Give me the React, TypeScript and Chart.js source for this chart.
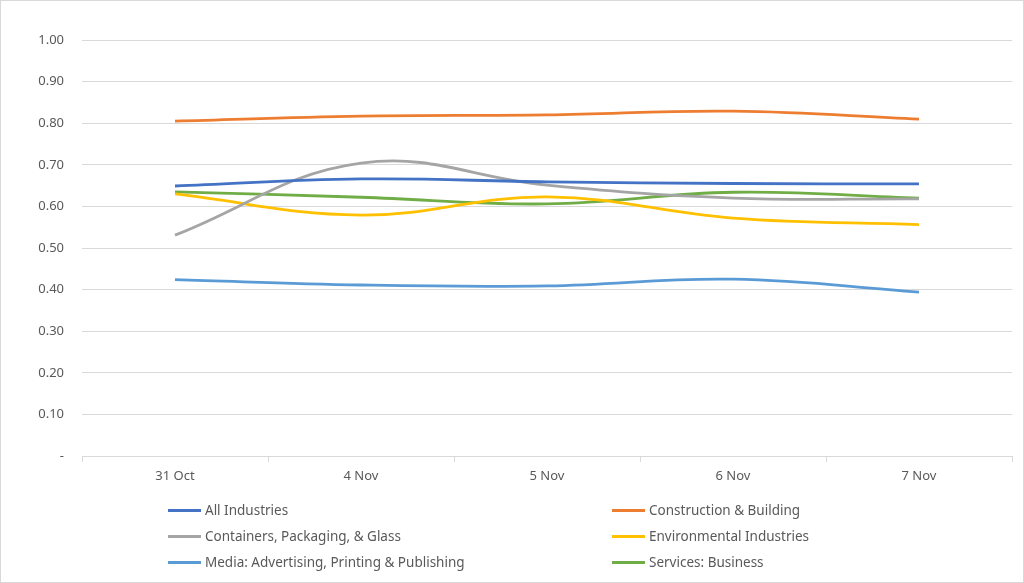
import React, { useEffect, useRef } from "react";
import { Chart, registerables } from "chart.js";

Chart.register(...registerables);

const categories = ["31 Oct", "4 Nov", "5 Nov", "6 Nov", "7 Nov"];
const allIndustries = [0.649, 0.666, 0.659, 0.655, 0.654];
const construction = [0.805, 0.817, 0.82, 0.829, 0.81];
const containers = [0.531, 0.704, 0.651, 0.62, 0.618];
const environmental = [0.63, 0.579, 0.623, 0.572, 0.556];
const media = [0.424, 0.411, 0.409, 0.425, 0.394];
const services = [0.635, 0.622, 0.606, 0.634, 0.62];
const yTicks = [0, 0.1, 0.2, 0.3, 0.4, 0.5, 0.6, 0.7, 0.8, 0.9, 1.0];

const seriesNames = [
  "All Industries",
  "Construction & Building",
  "Containers, Packaging, & Glass",
  "Environmental Industries",
  "Media: Advertising, Printing & Publishing",
  "Services: Business",
];
const seriesData = [allIndustries, construction, containers, environmental, media, services];
const colors = ["#4472C4", "#ED7D31", "#A5A5A5", "#FFC000", "#5B9BD5", "#70AD47"];

const FONT = '"Noto Sans", "Open Sans", sans-serif';

export default function App() {
  const ref = useRef<HTMLCanvasElement | null>(null);

  useEffect(() => {
    document.body.style.margin = "0";
    const canvas = ref.current;
    if (!canvas) return;
    const chart = new Chart(canvas, {
      type: "line",
      data: {
        labels: categories,
        datasets: seriesNames.map((name, i) => ({
          label: name,
          data: seriesData[i],
          borderColor: colors[i],
          backgroundColor: colors[i],
          borderWidth: 2.8,
          pointRadius: 0,
          pointHoverRadius: 0,
          tension: 0.4,
          fill: false,
        })),
      },
      options: {
        animation: false,
        responsive: false,
        maintainAspectRatio: false,
        layout: { padding: { left: 0, right: 12, top: 40, bottom: 0 } },
        plugins: {
          legend: { display: false },
          tooltip: { enabled: false },
        },
        scales: {
          x: {
            offset: true,
            grid: {
              offset: true,
              drawOnChartArea: false,
              drawTicks: true,
              tickLength: 6,
              color: "#d9d9d9",
            },
            border: { display: true, color: "#d9d9d9" },
            ticks: {
              color: "#595959",
              font: { family: FONT, size: 13 },
              padding: 6,
              maxRotation: 0,
            },
            afterFit: (scale: any) => {
              scale.height = 127;
            },
          },
          y: {
            min: 0,
            max: 1,
            afterBuildTicks: (scale: any) => {
              scale.ticks = yTicks.map((v) => ({ value: v }));
            },
            grid: { color: "#d9d9d9", drawTicks: false, lineWidth: 1 },
            border: { display: false },
            ticks: {
              color: "#595959",
              font: { family: FONT, size: 13 },
              padding: 18,
              callback: (v: any) => (Number(v) === 0 ? "-" : Number(v).toFixed(2)),
            },
            afterFit: (scale: any) => {
              scale.width = 82;
            },
          },
        },
      },
    });
    return () => chart.destroy();
  }, []);

  const legendPos = [
    { x: 168, y: 510 },
    { x: 612, y: 510 },
    { x: 168, y: 536 },
    { x: 612, y: 536 },
    { x: 168, y: 562 },
    { x: 612, y: 562 },
  ];

  return (
    <div
      style={{
        position: "relative",
        width: 1024,
        height: 583,
        background: "#fff",
        overflow: "hidden",
      }}
    >
      <canvas ref={ref} width={1024} height={583} style={{ position: "absolute", left: 0, top: 0, width: 1024, height: 583 }} />
      {seriesNames.map((name, i) => (
        <div
          key={name}
          style={{
            position: "absolute",
            left: legendPos[i].x,
            top: legendPos[i].y - 10,
            height: 20,
            display: "flex",
            alignItems: "center",
            fontFamily: FONT,
            fontSize: 13.5,
            color: "#595959",
            whiteSpace: "nowrap",
          }}
        >
          <span style={{ display: "inline-block", width: 33, height: 3, background: colors[i], marginRight: 4 }} />
          <span>{name}</span>
        </div>
      ))}
      <div
        style={{
          position: "absolute",
          left: 0,
          top: 0,
          width: 1022,
          height: 581,
          border: "1px solid #d9d9d9",
          pointerEvents: "none",
        }}
      />
    </div>
  );
}
